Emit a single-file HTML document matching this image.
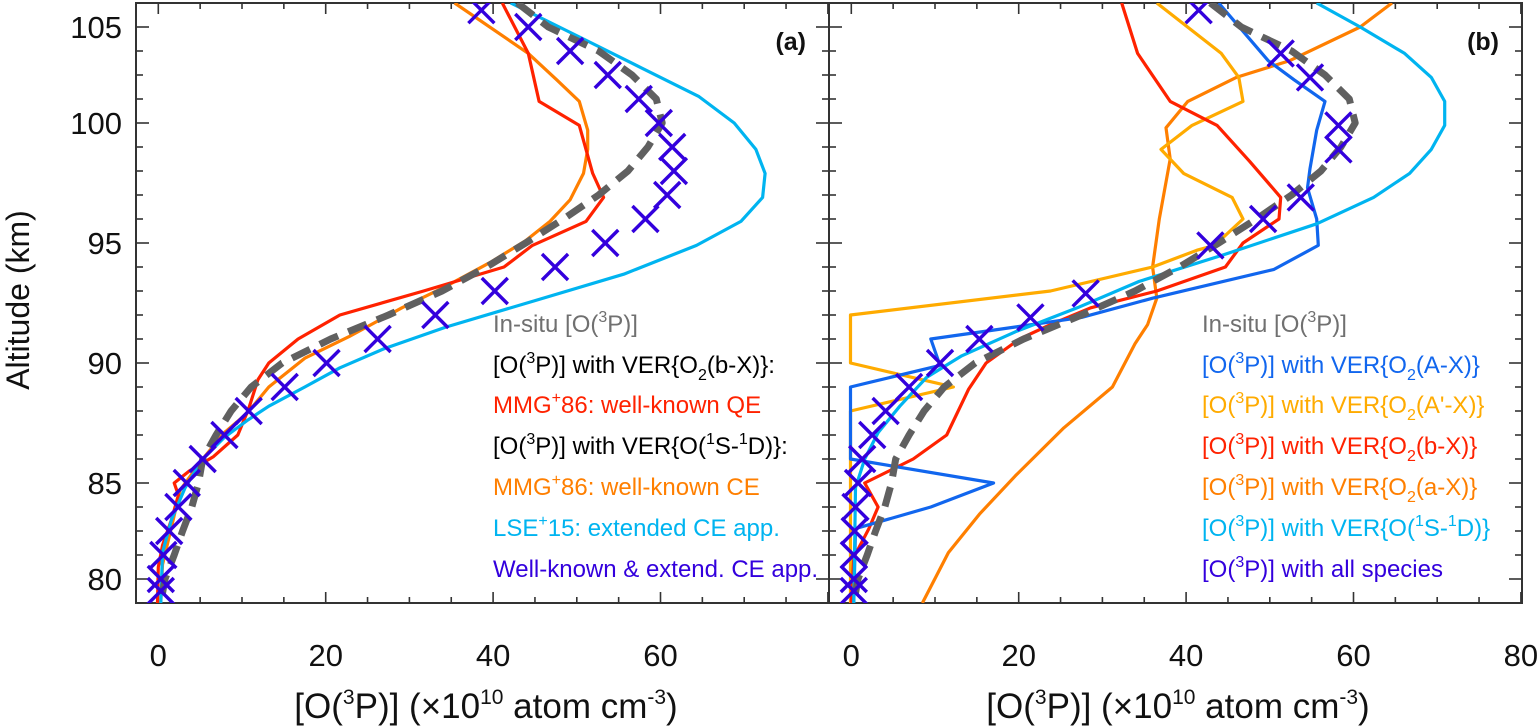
<!DOCTYPE html>
<html><head><meta charset="utf-8">
<style>
html,body{margin:0;padding:0;background:#fff;}
svg{display:block;font-family:"Liberation Sans",Arial,sans-serif;}
</style></head>
<body>
<svg id="chart" width="1540" height="727" viewBox="0 0 1540 727" xmlns="http://www.w3.org/2000/svg">
<g id="layer"></g>
</svg>
<script>
// ---------- data ----------
const xTickValues = [0, 20, 40, 60, 80];
const xTickLabelsA = ["0", "20", "40", "60"];
const xTickLabelsB = ["0", "20", "40", "60", "80"];
const yTickAlts = [81, 85, 90, 95, 100, 104];
const yTickLabels = ["80", "85", "90", "95", "100", "105"];

const insituAlt = [105,104,103,102,101,100,99,98,97,96,95,94,93,92,91,90,89,88,87,86,85,84,83,82,81,80];
const insituVal = [42.9,46.6,52.6,56.6,59.5,60.2,58.5,56.1,52.6,48.4,43.9,39.2,33.9,27.5,20.6,14.8,11.1,8.7,6.9,5.3,4.8,4.0,2.9,1.9,0.8,0.3];

const aRedAlt = [105,102.9,100.9,99.9,97.9,96.9,95.9,94.9,94.0,93.0,92.0,91.0,90.0,89.3,88.1,87.0,86.1,85.5,85.0,84.5,83.5,82.4,81.5,80];
const aRedVal = [41.1,44.2,45.5,50.3,51.9,53.2,51.1,44.7,41.3,31.7,21.7,16.7,13.2,11.9,10.8,9.5,6.6,3.7,1.9,2.4,1.6,0.5,0,-0.1];
const aOrangeAlt = [105,102.9,101.8,100.9,99.7,98.9,97.9,96.8,95.9,95.1,94.2,93.2,92.3,91.1,90.2,89.0,87.9,87.1,86.0,84.7,83.2,81.6,80];
const aOrangeVal = [35.4,44.2,47.6,50.3,51.3,51.3,50.8,49.2,46.8,43.9,39.7,34.4,29.1,22.8,17.5,13.2,10.6,7.9,5.3,2.6,1.6,0.5,0.3];
const aCyanAlt = [105,103.5,102.3,101.1,100,98.9,97.9,96.9,95.9,94.9,93.7,92.6,91.5,90.6,89.8,89.0,88.2,87.6,86.9,86.0,84.8,83.5,82.1,80];
const aCyanVal = [42.1,50.8,57.7,64.6,68.8,71.4,72.5,72.2,69.6,64.3,55.6,45.0,34.4,27.0,21.7,17.5,13.2,10.6,7.9,5.3,3.2,1.6,0.5,0.3];
const aCrossAlt = [104.7,104,103,102,101,100,99,98,97,96,95,94,93,92,91,90,89,88,87,86,85,84,83,82,81,80.5];
const aCrossVal = [38.6,44.2,49.2,53.7,57.4,59.8,61.4,61.6,60.8,58.2,53.4,47.4,40.2,33.1,26.2,20.1,15.1,10.8,7.9,5.3,3.4,2.4,1.3,0.6,0.3,0.3];

const bBlueAlt = [105,103.7,102.6,101.8,100.9,99.7,98.1,97.3,96,94.9,93.9,92.7,91.9,91.5,91,89.9,89,86,85,84,83.1,80];
const bBlueVal = [43.9,47.1,49.8,52.9,56.6,55.6,54.8,54.5,55.6,55.8,50.5,36.0,27.5,19.6,9.5,10.6,-0.1,-0.1,17.0,9.5,0.5,0.3];
const bAmberAlt = [105,102.9,101.9,100.9,99.9,98.9,97.9,96.9,96,94.9,94.7,94.0,93.0,92.0,90.0,89.0,88.0,80];
const bAmberVal = [36.5,44.2,46.3,46.8,40.7,37.0,39.7,45.5,46.8,43.4,41.3,36.0,23.8,-0.1,-0.1,12.2,-0.1,-0.1];
const bRedAlt = [105,102.9,100.9,99.9,98.4,96.9,96.0,95.0,94.0,93.0,92.3,91.6,91.0,90.0,88.9,87.0,86.0,85.0,84.0,83.1,81.9,80];
const bRedVal = [32.3,34.2,38.1,43.7,47.6,51.3,51.1,46.8,44.7,36.5,28.6,23.8,20.1,16.1,14.0,11.4,7.4,1.6,3.2,2.1,0.3,0];
const bOrangeAlt = [105,104,102.6,101.9,100.9,99.8,98.5,96,94.0,92.7,91.6,90.8,89.0,87.3,85.3,83.7,82.1,80];
const bOrangeVal = [64.6,60.8,52.4,46.0,40.2,37.6,38.1,36.8,36.0,36.5,35.4,33.9,31.2,25.4,19.6,15.3,11.6,8.5];
const bCyanAlt = [105,104,102.9,101.9,100.9,99.9,98.9,97.9,96.9,95.8,94.5,93.4,92.3,91.3,90.3,89.4,88.2,87.1,86.0,84.8,80];
const bCyanVal = [55.6,60.8,66.1,69.3,70.9,70.9,69.3,66.7,62.4,55.6,44.4,34.4,27.0,19.6,13.2,9.0,5.8,3.2,1.6,0.5,0.3];
const bCrossAlt = [104.7,102.9,101.9,99.9,98.9,96.9,96.0,94.9,92.9,91.9,91.0,90.0,89.0,88.0,87.0,86.0,85.0,84.0,83.0,82.0,81.0,80.5];
const bCrossVal = [41.5,51.3,54.8,58.2,58.2,53.7,49.2,42.9,28.0,21.4,15.3,10.6,6.9,4.1,2.5,1.3,0.8,0.5,0.4,0.3,0.3,0.3];

// ---------- drawing ----------
const NS = "http://www.w3.org/2000/svg";
const layer = document.getElementById('layer');
const TOP = 3, BOT = 603, ALT0 = 80, ALT1 = 105;
const C = {gray:"#606060", red:"#ff2200", orange:"#ff7f00", cyan:"#00b4f0", blue:"#1166ee", amber:"#ffab00", purple:"#3300dd"};

function mk(tag, attrs, parent){
  const e = document.createElementNS(NS, tag);
  for (const k in attrs) e.setAttribute(k, attrs[k]);
  (parent||layer).appendChild(e);
  return e;
}
function rich(textEl, s, small, up, down){
  const re = /(\^\{[^}]*\}|_\{[^}]*\})/;
  const parts = s.split(re).filter(p => p.length);
  let off = 0;
  parts.forEach(p => {
    let target = 0, txt = p, fs = null;
    if (p.startsWith('^{')) { target = -up; txt = p.slice(2, -1); fs = small; }
    else if (p.startsWith('_{')) { target = down; txt = p.slice(2, -1); fs = small; }
    const ts = mk('tspan', {dy: target - off}, textEl);
    if (fs) ts.setAttribute('font-size', fs);
    ts.textContent = txt;
    off = target;
  });
}
function yScale(a){ return BOT - (a - ALT0) * (BOT - TOP) / (ALT1 - ALT0); }
function makeX(zeroPx){ return v => zeroPx + v * 8.37; }

function drawPanel(id, left, right, zeroPx, tickLabels, tag){
  const x = makeX(zeroPx);
  const g = mk('g', {});
  
  
  const clipId = 'clip-' + id;
  const cp = mk('clipPath', {id: clipId}, g);
  mk('rect', {x:left, y:TOP, width:right-left, height:BOT-TOP}, cp);
  const fr = mk('rect', {x:left, y:TOP, width:right-left, height:BOT-TOP, fill:"none", stroke:"#333", "stroke-width":2}, g);
  
  
  for (let v = 0; v <= 80; v += 5){
    const px = x(v); if (px > right - 1) continue;
    const major = v % 20 === 0;
    const L = major ? 11 : 6;
    const t1 = mk('line', {x1:px, x2:px, y1:BOT, y2:BOT-L, stroke:"#333", "stroke-width":1.6}, g);
    
    
    const t2 = mk('line', {x1:px, x2:px, y1:TOP, y2:TOP+L, stroke:"#333", "stroke-width":1.6}, g);
    
    
  }
  tickLabels.forEach((lab, i) => {
    const t = mk('text', {x:x(xTickValues[i]), y:666, "font-size":31, "text-anchor":"middle", fill:"#111"}, g);
    t.textContent = lab;
    
    
  });
  for (let a = 81; a <= 104; a++){
    const py = yScale(a);
    const major = yTickAlts.includes(a);
    const L = major ? 13 : 7;
    const t1 = mk('line', {x1:left, x2:left+L, y1:py, y2:py, stroke:"#333", "stroke-width":1.6}, g);
    
    
    const t2 = mk('line', {x1:right, x2:right-L, y1:py, y2:py, stroke:"#333", "stroke-width":1.6}, g);
    
    
  }
  const pt = mk('text', {x:right-23, y:50, "font-size":25, "font-weight":"bold", "text-anchor":"end", fill:"#111"}, g);
  pt.textContent = tag;
  
  
  const plot = mk('g', {"clip-path":"url(#" + clipId + ")"}, g);
  return {x, plot};
}

function drawLine(p, alts, vals, color, name, dashed){
  const pts = alts.map((a, i) => p.x(vals[i]).toFixed(1) + "," + yScale(a).toFixed(1)).join(" ");
  const attrs = {points:pts, fill:"none", stroke:color, "stroke-width":dashed?7:3.2, "stroke-linejoin":"round"};
  if (dashed) attrs["stroke-dasharray"] = "20 11";
  const pl = mk('polyline', attrs, p.plot);
  
  
}
function drawCrosses(p, alts, vals, name){
  alts.forEach((a, i) => {
    const cx = p.x(vals[i]), cy = yScale(a), s = 13;
    const c = mk('path', {d:`M${cx-s},${cy-s}L${cx+s},${cy+s}M${cx-s},${cy+s}L${cx+s},${cy-s}`, stroke:C.purple, "stroke-width":3.4, fill:"none"}, p.plot);
    
    
  });
}
function legend(x0, items){
  const ys = [332, 373, 413, 454, 495, 536, 577];
  items.forEach((it, i) => {
    const t = mk('text', {x:x0, y:ys[i], "font-size":24, fill:it[1]});
    rich(t, it[0], 16, 10, 7);
    
    
  });
}
const O3P = "[O(^{3}P)]";

const pa = drawPanel('a', 136, 829, 158.3, xTickLabelsA, '(a)');
drawLine(pa, aOrangeAlt, aOrangeVal, C.orange, 'line-mmg86-ce');
drawLine(pa, aRedAlt, aRedVal, C.red, 'line-mmg86-qe');
drawLine(pa, aCyanAlt, aCyanVal, C.cyan, 'line-lse15-ce');
drawLine(pa, insituAlt, insituVal, C.gray, 'line-insitu-a', true);
drawCrosses(pa, aCrossAlt, aCrossVal, 'cross-combined-a');
legend(493, [
  [`In-situ ${O3P}`, "#707070"],
  [`${O3P} with VER{O_{2}(b-X)}:`, "#000"],
  [`MMG^{+}86: well-known QE`, C.red],
  [`${O3P} with VER{O(^{1}S-^{1}D)}:`, "#000"],
  [`MMG^{+}86: well-known CE`, C.orange],
  [`LSE^{+}15: extended CE app.`, C.cyan],
  [`Well-known & extend. CE app.`, C.purple]
]);

const pb = drawPanel('b', 829, 1522, 851.3, xTickLabelsB, '(b)');
drawLine(pb, bOrangeAlt, bOrangeVal, C.orange, 'line-o2-a-x');
drawLine(pb, bAmberAlt, bAmberVal, C.amber, 'line-o2-aprime-x');
drawLine(pb, bRedAlt, bRedVal, C.red, 'line-o2-b-x');
drawLine(pb, bBlueAlt, bBlueVal, C.blue, 'line-o2-A-x');
drawLine(pb, bCyanAlt, bCyanVal, C.cyan, 'line-o1s-1d');
drawLine(pb, insituAlt, insituVal, C.gray, 'line-insitu-b', true);
drawCrosses(pb, bCrossAlt, bCrossVal, 'cross-all-species');
legend(1202, [
  [`In-situ ${O3P}`, "#707070"],
  [`${O3P} with VER{O_{2}(A-X)}`, C.blue],
  [`${O3P} with VER{O_{2}(A'-X)}`, C.amber],
  [`${O3P} with VER{O_{2}(b-X)}`, C.red],
  [`${O3P} with VER{O_{2}(a-X)}`, C.orange],
  [`${O3P} with VER{O(^{1}S-^{1}D)}`, C.cyan],
  [`${O3P} with all species`, C.purple]
]);

yTickLabels.forEach((lab, i) => {
  const t = mk('text', {x:122, y:yScale(yTickAlts[i]) + 11, "font-size":31, "text-anchor":"end", fill:"#111"});
  t.textContent = lab;
  
  
});
const yt = mk('text', {x:0, y:0, "font-size":32, "text-anchor":"middle", fill:"#111", transform:"translate(29,300) rotate(-90)"});
yt.textContent = "Altitude (km)";


[[486,'x-axis-title-a'],[1178,'x-axis-title-b']].forEach(([cx, nm]) => {
  const t = mk('text', {x:cx, y:718, "font-size":35, "text-anchor":"middle", fill:"#111"});
  rich(t, "[O(^{3}P)] (×10^{10} atom cm^{-3})", 21, 14, 0);
  
  
});
</script>
</body></html>
